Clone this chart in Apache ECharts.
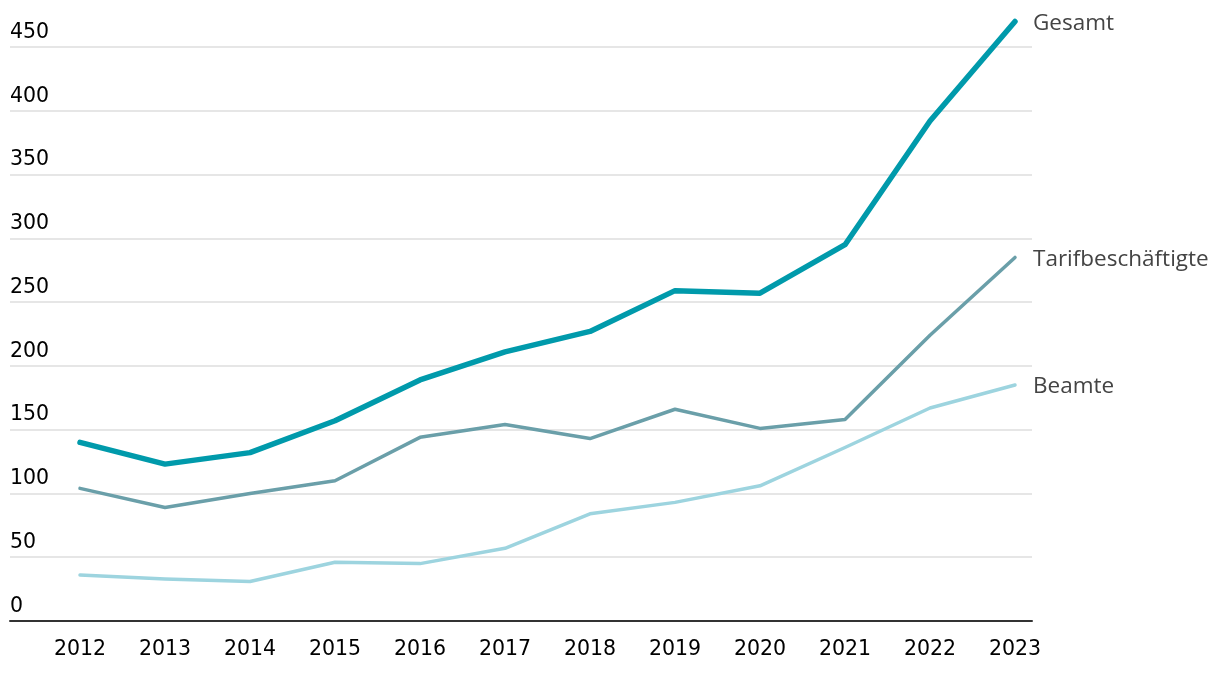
<!DOCTYPE html>
<html>
<head>
<meta charset="utf-8">
<script src="https://cdn.jsdelivr.net/npm/echarts@6/dist/echarts.min.js"></script>
<style>
html,body{margin:0;padding:0;background:#fff;}
#chart{width:1220px;height:676px;}
</style>
</head>
<body>
<div id="chart"></div>
<script>
const years = ['2012','2013','2014','2015','2016','2017','2018','2019','2020','2021','2022','2023'];
const gesamt = [140, 123, 132, 157, 189, 211, 227, 259, 257, 295, 392, 470];
const tarif = [104, 89, 100, 110, 144, 154, 143, 166, 151, 158, 224, 285];
const beamte = [36, 33, 31, 46, 45, 57, 84, 93, 106, 136, 167, 185];
const yTicks = [0, 50, 100, 150, 200, 250, 300, 350, 400, 450];
const seriesNames = ['Gesamt', 'Tarifbeschäftigte', 'Beamte'];

const toPts = arr => arr.map((v, i) => [i, v]);
const chart = echarts.init(document.getElementById('chart'));
const labelStyle = {fontFamily: 'Open Sans', fontSize: 22.5, color: '#444'};
function mk(name, data, color, width, z) {
  return {
    name: name, type: 'line', data: toPts(data), symbol: 'none', clip: false, z: z,
    lineStyle: {color: color, width: width, cap: 'round', join: 'round'},
    endLabel: Object.assign({show: true, formatter: name, distance: 18, offset: [0, 2]}, labelStyle),
    emphasis: {disabled: true}
  };
}
chart.setOption({
  animation: false,
  backgroundColor: '#fff',
  grid: {left: 10, right: 188, top: 47, bottom: 55, containLabel: false},
  xAxis: {
    type: 'value', min: -70/85, max: 11 + 17/85,
    axisLine: {show: true, lineStyle: {color: '#333', width: 2}},
    axisTick: {show: false},
    splitLine: {show: false},
    axisLabel: {
      customValues: years.map((y, i) => i),
      formatter: v => years[Math.round(v)],
      fontFamily: 'DejaVu Sans', fontSize: 20.5, color: '#000', margin: 18
    }
  },
  yAxis: {
    type: 'value', min: yTicks[0], max: yTicks[yTicks.length - 1], interval: 50,
    axisLine: {show: false}, axisTick: {show: false},
    splitLine: {show: true, lineStyle: {color: '#e6e6e6', width: 2}},
    axisLabel: {
      inside: true, margin: 0, verticalAlign: 'bottom', align: 'left',
      padding: [0, 0, 4, 0],
      fontFamily: 'DejaVu Sans', fontSize: 20.5, color: '#000'
    }
  },
  series: [
    mk(seriesNames[2], beamte, '#9dd4df', 3.5, 2),
    mk(seriesNames[1], tarif, '#6a9fa9', 3.5, 3),
    mk(seriesNames[0], gesamt, '#009aab', 5.5, 4)
  ]
});
</script>
</body>
</html>
